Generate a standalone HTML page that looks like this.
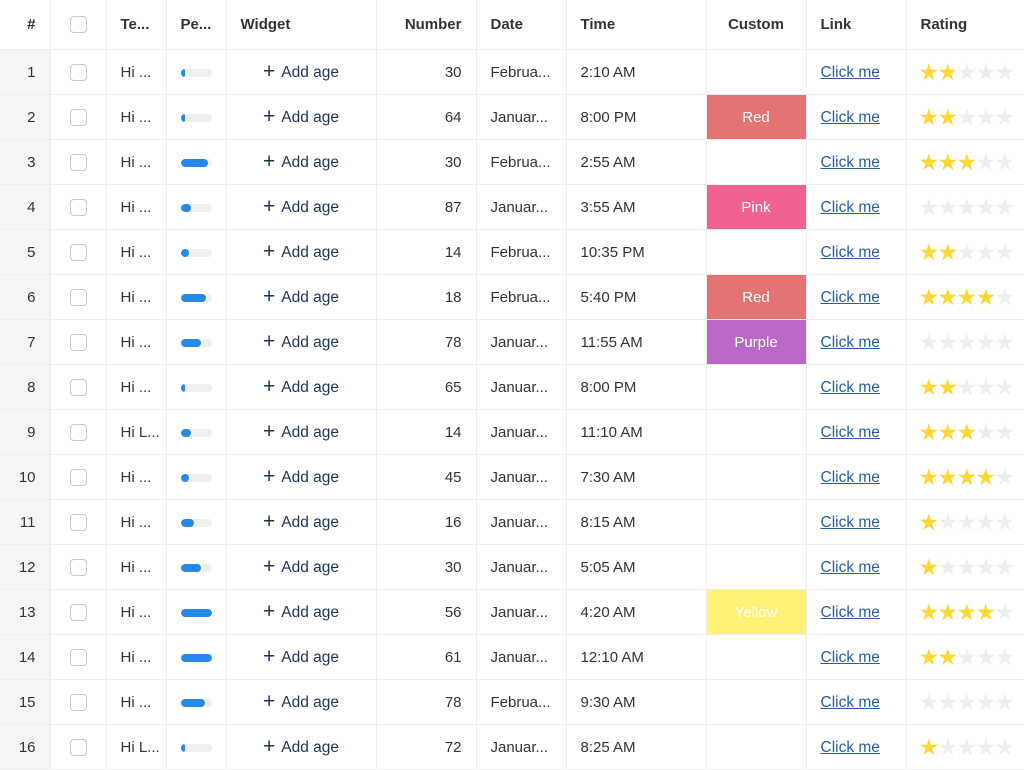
<!DOCTYPE html>
<html><head><meta charset="utf-8"><style>
*{box-sizing:border-box;margin:0;padding:0}
body{width:1024px;height:768px;overflow:hidden;background:#fff;font-family:"Liberation Sans",Arial,sans-serif;color:#333;font-size:15px}
table{border-collapse:collapse;table-layout:fixed;width:1024px}
td,th{border-right:1px solid #eee;border-bottom:1px solid #eee;height:45px;padding:0 14px;white-space:nowrap;overflow:hidden;vertical-align:middle;line-height:18px}
td{padding-top:2px}
th{height:49px;font-weight:bold;text-align:left;color:#333;font-size:15px;padding-top:1px}
td.n{background:#f5f5f5;text-align:right;padding-right:14px;font-weight:normal}
th.n{text-align:right;padding-right:14px}
.cb{display:inline-block;width:17px;height:17px;border:1px solid #c8c8c8;border-radius:4px;background:#fff;vertical-align:middle}
td.c,th.c{text-align:center;padding-left:0;padding-right:0}
.bar{width:31px;height:8px;border-radius:4px;background:#efefef;overflow:hidden}
.bar i{display:block;height:8px;background:#2589e8;border-radius:4px}
.w{color:#1d3557;text-align:center;font-size:15.5px}
.w b{font-size:21px;font-weight:normal;margin-right:6px;vertical-align:-1px}
.r{text-align:right}
.lk{color:#2a5d9f;text-decoration:underline;font-size:15.5px}
td.cu{padding:2px 0 0 0;text-align:center;color:#fff}
.red{background:#e57373}.pink{background:#f06292}.pur{background:#ba68c8}.yel{background:#fff176}
td.st{padding-left:12px;padding-top:0}
.st div{display:flex;height:24px;align-items:center}
.st span{display:block;width:19px;text-align:center;font-size:23px;color:#fdd835;line-height:24px}
.st span.e{color:#eee}
</style></head><body>
<table>
<colgroup><col style="width:50px"><col style="width:56px"><col style="width:60px"><col style="width:60px"><col style="width:150px"><col style="width:100px"><col style="width:90px"><col style="width:140px"><col style="width:100px"><col style="width:100px"><col style="width:118px"></colgroup>
<tr><th class="n">#</th><th class="c"><span class="cb"></span></th><th>Te...</th><th>Pe...</th><th>Widget</th><th class="r">Number</th><th>Date</th><th>Time</th><th class="c">Custom</th><th>Link</th><th>Rating</th></tr>
<tr><td class="n">1</td><td class="c"><span class="cb"></span></td><td>Hi ...</td><td><div class="bar"><i style="width:4px"></i></div></td><td class="w"><b>+</b>Add age</td><td class="r">30</td><td>Februa...</td><td>2:10 AM</td><td class="cu"></td><td><span class="lk">Click me</span></td><td class="st"><div><span>★</span><span>★</span><span class="e">★</span><span class="e">★</span><span class="e">★</span></div></td></tr>
<tr><td class="n">2</td><td class="c"><span class="cb"></span></td><td>Hi ...</td><td><div class="bar"><i style="width:4px"></i></div></td><td class="w"><b>+</b>Add age</td><td class="r">64</td><td>Januar...</td><td>8:00 PM</td><td class="cu red">Red</td><td><span class="lk">Click me</span></td><td class="st"><div><span>★</span><span>★</span><span class="e">★</span><span class="e">★</span><span class="e">★</span></div></td></tr>
<tr><td class="n">3</td><td class="c"><span class="cb"></span></td><td>Hi ...</td><td><div class="bar"><i style="width:27px"></i></div></td><td class="w"><b>+</b>Add age</td><td class="r">30</td><td>Februa...</td><td>2:55 AM</td><td class="cu"></td><td><span class="lk">Click me</span></td><td class="st"><div><span>★</span><span>★</span><span>★</span><span class="e">★</span><span class="e">★</span></div></td></tr>
<tr><td class="n">4</td><td class="c"><span class="cb"></span></td><td>Hi ...</td><td><div class="bar"><i style="width:10px"></i></div></td><td class="w"><b>+</b>Add age</td><td class="r">87</td><td>Januar...</td><td>3:55 AM</td><td class="cu pink">Pink</td><td><span class="lk">Click me</span></td><td class="st"><div><span class="e">★</span><span class="e">★</span><span class="e">★</span><span class="e">★</span><span class="e">★</span></div></td></tr>
<tr><td class="n">5</td><td class="c"><span class="cb"></span></td><td>Hi ...</td><td><div class="bar"><i style="width:8px"></i></div></td><td class="w"><b>+</b>Add age</td><td class="r">14</td><td>Februa...</td><td>10:35 PM</td><td class="cu"></td><td><span class="lk">Click me</span></td><td class="st"><div><span>★</span><span>★</span><span class="e">★</span><span class="e">★</span><span class="e">★</span></div></td></tr>
<tr><td class="n">6</td><td class="c"><span class="cb"></span></td><td>Hi ...</td><td><div class="bar"><i style="width:25px"></i></div></td><td class="w"><b>+</b>Add age</td><td class="r">18</td><td>Februa...</td><td>5:40 PM</td><td class="cu red">Red</td><td><span class="lk">Click me</span></td><td class="st"><div><span>★</span><span>★</span><span>★</span><span>★</span><span class="e">★</span></div></td></tr>
<tr><td class="n">7</td><td class="c"><span class="cb"></span></td><td>Hi ...</td><td><div class="bar"><i style="width:20px"></i></div></td><td class="w"><b>+</b>Add age</td><td class="r">78</td><td>Januar...</td><td>11:55 AM</td><td class="cu pur">Purple</td><td><span class="lk">Click me</span></td><td class="st"><div><span class="e">★</span><span class="e">★</span><span class="e">★</span><span class="e">★</span><span class="e">★</span></div></td></tr>
<tr><td class="n">8</td><td class="c"><span class="cb"></span></td><td>Hi ...</td><td><div class="bar"><i style="width:4px"></i></div></td><td class="w"><b>+</b>Add age</td><td class="r">65</td><td>Januar...</td><td>8:00 PM</td><td class="cu"></td><td><span class="lk">Click me</span></td><td class="st"><div><span>★</span><span>★</span><span class="e">★</span><span class="e">★</span><span class="e">★</span></div></td></tr>
<tr><td class="n">9</td><td class="c"><span class="cb"></span></td><td>Hi L...</td><td><div class="bar"><i style="width:10px"></i></div></td><td class="w"><b>+</b>Add age</td><td class="r">14</td><td>Januar...</td><td>11:10 AM</td><td class="cu"></td><td><span class="lk">Click me</span></td><td class="st"><div><span>★</span><span>★</span><span>★</span><span class="e">★</span><span class="e">★</span></div></td></tr>
<tr><td class="n">10</td><td class="c"><span class="cb"></span></td><td>Hi ...</td><td><div class="bar"><i style="width:8px"></i></div></td><td class="w"><b>+</b>Add age</td><td class="r">45</td><td>Januar...</td><td>7:30 AM</td><td class="cu"></td><td><span class="lk">Click me</span></td><td class="st"><div><span>★</span><span>★</span><span>★</span><span>★</span><span class="e">★</span></div></td></tr>
<tr><td class="n">11</td><td class="c"><span class="cb"></span></td><td>Hi ...</td><td><div class="bar"><i style="width:13px"></i></div></td><td class="w"><b>+</b>Add age</td><td class="r">16</td><td>Januar...</td><td>8:15 AM</td><td class="cu"></td><td><span class="lk">Click me</span></td><td class="st"><div><span>★</span><span class="e">★</span><span class="e">★</span><span class="e">★</span><span class="e">★</span></div></td></tr>
<tr><td class="n">12</td><td class="c"><span class="cb"></span></td><td>Hi ...</td><td><div class="bar"><i style="width:20px"></i></div></td><td class="w"><b>+</b>Add age</td><td class="r">30</td><td>Januar...</td><td>5:05 AM</td><td class="cu"></td><td><span class="lk">Click me</span></td><td class="st"><div><span>★</span><span class="e">★</span><span class="e">★</span><span class="e">★</span><span class="e">★</span></div></td></tr>
<tr><td class="n">13</td><td class="c"><span class="cb"></span></td><td>Hi ...</td><td><div class="bar"><i style="width:31px"></i></div></td><td class="w"><b>+</b>Add age</td><td class="r">56</td><td>Januar...</td><td>4:20 AM</td><td class="cu yel">Yellow</td><td><span class="lk">Click me</span></td><td class="st"><div><span>★</span><span>★</span><span>★</span><span>★</span><span class="e">★</span></div></td></tr>
<tr><td class="n">14</td><td class="c"><span class="cb"></span></td><td>Hi ...</td><td><div class="bar"><i style="width:31px"></i></div></td><td class="w"><b>+</b>Add age</td><td class="r">61</td><td>Januar...</td><td>12:10 AM</td><td class="cu"></td><td><span class="lk">Click me</span></td><td class="st"><div><span>★</span><span>★</span><span class="e">★</span><span class="e">★</span><span class="e">★</span></div></td></tr>
<tr><td class="n">15</td><td class="c"><span class="cb"></span></td><td>Hi ...</td><td><div class="bar"><i style="width:24px"></i></div></td><td class="w"><b>+</b>Add age</td><td class="r">78</td><td>Februa...</td><td>9:30 AM</td><td class="cu"></td><td><span class="lk">Click me</span></td><td class="st"><div><span class="e">★</span><span class="e">★</span><span class="e">★</span><span class="e">★</span><span class="e">★</span></div></td></tr>
<tr><td class="n">16</td><td class="c"><span class="cb"></span></td><td>Hi L...</td><td><div class="bar"><i style="width:4px"></i></div></td><td class="w"><b>+</b>Add age</td><td class="r">72</td><td>Januar...</td><td>8:25 AM</td><td class="cu"></td><td><span class="lk">Click me</span></td><td class="st"><div><span>★</span><span class="e">★</span><span class="e">★</span><span class="e">★</span><span class="e">★</span></div></td></tr>
</table>
</body></html>
